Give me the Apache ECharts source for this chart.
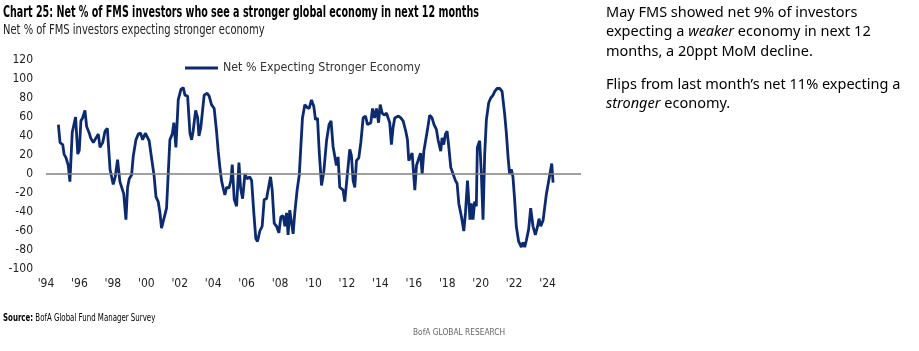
<!DOCTYPE html>
<html>
<head>
<meta charset="utf-8">
<script src="https://cdn.jsdelivr.net/npm/echarts@6.0.0/dist/echarts.min.js"></script>
<style>
  html, body { margin: 0; padding: 0; background: #fff; }
  #main { width: 919px; height: 351px; }
</style>
</head>
<body>
<div id="main"></div>
<script>
// survey month as decimal year
const years = [
  1994.74, 1994.84, 1995.00, 1995.08, 1995.20, 1995.33, 1995.43, 1995.57, 1995.63, 1995.77,
  1995.90, 1995.99, 1996.09, 1996.19, 1996.33, 1996.43, 1996.59, 1996.67, 1996.77, 1996.83,
  1996.99, 1997.13, 1997.23, 1997.39, 1997.53, 1997.67, 1997.83, 1997.93, 1998.02, 1998.14,
  1998.28, 1998.42, 1998.52, 1998.65, 1998.78, 1998.88, 1998.98, 1999.12, 1999.22, 1999.38,
  1999.52, 1999.66, 1999.78, 1999.94, 2000.05, 2000.17, 2000.32, 2000.46, 2000.58, 2000.71,
  2000.81, 2000.91, 2001.01, 2001.11, 2001.21, 2001.41, 2001.55, 2001.65, 2001.77, 2001.91,
  2002.07, 2002.21, 2002.31, 2002.47, 2002.61, 2002.71, 2002.80, 2002.95, 2003.07, 2003.15,
  2003.26, 2003.46, 2003.64, 2003.76, 2003.90, 2004.06, 2004.20, 2004.30, 2004.40, 2004.50,
  2004.60, 2004.70, 2004.80, 2004.94, 2005.06, 2005.14, 2005.26, 2005.40, 2005.54, 2005.64,
  2005.76, 2005.90, 2006.03, 2006.19, 2006.30, 2006.43, 2006.55, 2006.65, 2006.79, 2006.93,
  2007.05, 2007.19, 2007.29, 2007.43, 2007.53, 2007.65, 2007.79, 2007.93, 2008.05, 2008.18,
  2008.29, 2008.39, 2008.48, 2008.58, 2008.68, 2008.78, 2008.88, 2009.02, 2009.15, 2009.24,
  2009.34, 2009.48, 2009.62, 2009.74, 2009.88, 2010.02, 2010.12, 2010.24, 2010.34, 2010.48,
  2010.62, 2010.78, 2010.93, 2011.05, 2011.17, 2011.27, 2011.37, 2011.47, 2011.57, 2011.67,
  2011.77, 2011.87, 2012.01, 2012.17, 2012.27, 2012.37, 2012.47, 2012.57, 2012.71, 2012.83,
  2012.97, 2013.11, 2013.23, 2013.33, 2013.43, 2013.53, 2013.65, 2013.77, 2013.89, 2013.99,
  2014.11, 2014.23, 2014.37, 2014.46, 2014.56, 2014.66, 2014.76, 2014.86, 2014.96, 2015.08,
  2015.22, 2015.36, 2015.52, 2015.62, 2015.70, 2015.80, 2015.90, 2016.06, 2016.16, 2016.26,
  2016.40, 2016.50, 2016.60, 2016.71, 2016.82, 2016.95, 2017.09, 2017.21, 2017.35, 2017.45,
  2017.55, 2017.61, 2017.69, 2017.79, 2017.89, 2017.99, 2018.09, 2018.21, 2018.35, 2018.49,
  2018.59, 2018.69, 2018.85, 2018.99, 2019.09, 2019.21, 2019.28, 2019.36, 2019.44, 2019.54,
  2019.64, 2019.74, 2019.80, 2019.94, 2020.04, 2020.14, 2020.24, 2020.34, 2020.48, 2020.60,
  2020.74, 2020.84, 2020.98, 2021.14, 2021.28, 2021.44, 2021.54, 2021.64, 2021.73, 2021.83,
  2021.93, 2022.03, 2022.13, 2022.27, 2022.43, 2022.53, 2022.63, 2022.73, 2022.87, 2022.99,
  2023.13, 2023.27, 2023.39, 2023.49, 2023.59, 2023.73, 2023.83, 2023.93, 2024.07, 2024.25,
  2024.33
]

// net % expecting stronger economy
const netPct = [
  52, 33, 31, 21, 17, 9, -8, 44, 45, 60,
  21, 25, 56, 59, 67, 50, 43, 38, 40, 33,
  38, 42, 28, 33, 45, 48, 5, 3, -11, -3,
  15, -8, -10, -21, -48, -14, -5, -1, 19, 36,
  42, 43, 36, 43, 42, 35, 16, -1, -24, -29,
  -40, -57, -59, -43, -36, 36, 42, 54, 28, 78,
  89, 91, 83, 82, 43, 36, 45, 67, 59, 40,
  49, 83, 85, 82, 73, 69, 45, 24, 7, -7,
  -15, -22, -14, -15, -7, 10, -27, -34, 12, -15,
  -26, 0, -5, -3, -7, -41, -68, -71, -60, -55,
  -27, -26, -27, -3, -17, -52, -55, -62, -45, -44,
  -55, -41, -64, -38, -36, -63, -41, -17, -1, 28,
  59, 73, 70, 69, 78, 71, 57, 59, 24, -12,
  3, 35, 52, 56, 29, 28, 9, 18, -14, -15,
  -17, -29, -3, 26, 19, -7, -14, 14, 17, 33,
  59, 61, 52, 50, 54, 69, 59, 69, 54, 73,
  64, 62, 64, 66, 54, 31, 49, 59, 57, 61,
  59, 56, 45, 36, 14, 12, 22, -17, 9, 10,
  22, 0, 24, 26, 47, 62, 59, 52, 47, 36,
  35, 24, 38, 31, 42, 45, 29, 7, 0, -7,
  -10, -31, -45, -60, -41, -7, -5, -48, -31, -48,
  -29, -34, 28, 35, 0, -48, 21, 57, 75, 80,
  83, 87, 90, 90, 87, 62, 42, 17, 0, 5,
  -3, -27, -55, -71, -77, -72, -77, -70, -58, -36,
  -55, -64, -56, -47, -55, -49, -49, -21, -7, 11,
  -9
]

const seriesName = 'Net % Expecting Stronger Economy'
const NARROW = "'DejaVu Sans Condensed', sans-serif"
const NAVY = '#0b2a6f'

const chart = echarts.init(document.getElementById('main'))

chart.setOption({
  animation: false,
  backgroundColor: '#fff',
  grid: { left: 46, right: 338, top: 60, bottom: 82 },
  legend: {
    data: [{ name: seriesName, icon: 'rect' }],
    left: 185,
    top: 62,
    padding: 0,
    itemWidth: 33,
    itemHeight: 3,
    textStyle: { fontFamily: NARROW, fontSize: 12.3, color: '#333' }
  },
  xAxis: {
    type: 'value',
    min: 1994,
    max: 2026,
    interval: 2,
    axisLine: { show: false },
    axisTick: { show: false },
    splitLine: { show: false },
    axisLabel: {
      margin: 9,
      fontFamily: NARROW,
      fontSize: 12,
      color: '#222',
      formatter: v => (v >= 2026 ? '' : "'" + String(v).slice(2))
    }
  },
  yAxis: {
    type: 'value',
    min: -100,
    max: 120,
    interval: 20,
    axisLine: { show: false },
    axisTick: { show: false },
    splitLine: { show: false },
    axisLabel: { margin: 13, fontFamily: NARROW, fontSize: 12, color: '#222' }
  },
  series: [
    {
      // zero line, kept under the data line
      name: 'zero',
      type: 'line',
      data: [],
      z: 1,
      silent: true,
      markLine: {
        silent: true,
        symbol: ['none', 'none'],
        label: { show: false },
        lineStyle: { color: '#808080', width: 1.6, type: 'solid' },
        data: [{ yAxis: 0 }]
      }
    },
    {
      name: seriesName,
      type: 'line',
      z: 3,
      symbol: 'none',
      lineStyle: { color: NAVY, width: 2.8 },
      itemStyle: { color: NAVY },
      data: years.map((t, i) => [t, netPct[i]])
    }
  ],
  graphic: [
    {
      type: 'text', x: 3, y: 5, scaleX: 0.665,
      style: {
        text: 'Chart 25: Net % of FMS investors who see a stronger global economy in next 12 months',
        font: 'bold 16px ' + NARROW, fill: '#000'
      }
    },
    {
      type: 'text', x: 3, y: 23, scaleX: 0.82,
      style: { text: 'Net % of FMS investors expecting stronger economy', font: '13.5px ' + NARROW, fill: '#222' }
    },
    {
      type: 'text', x: 3, y: 313, scaleX: 0.71,
      style: {
        text: '{b|Source:} BofA Global Fund Manager Survey',
        font: '11px ' + NARROW, fill: '#000',
        rich: { b: { fontWeight: 'bold', fontFamily: NARROW, fontSize: 11 } }
      }
    },
    {
      type: 'text', x: 413, y: 329,
      style: { text: 'BofA GLOBAL RESEARCH', font: '8.3px ' + NARROW, fill: '#666' }
    },
    {
      type: 'text', left: 606, top: 3,
      style: {
        text: 'May FMS showed net 9% of investors\nexpecting a {i|weaker} economy in next 12\nmonths, a 20ppt MoM decline.',
        font: "14.5px 'Noto Sans', sans-serif", fill: '#000', lineHeight: 19.5,
        rich: { i: { fontStyle: 'italic', fontFamily: 'Noto Sans', fontSize: 14.5, lineHeight: 19.5 } }
      }
    },
    {
      type: 'text', left: 606, top: 75,
      style: {
        text: 'Flips from last month\u2019s net 11% expecting a\n{i|stronger} economy.',
        font: "14.5px 'Noto Sans', sans-serif", fill: '#000', lineHeight: 19.5,
        rich: { i: { fontStyle: 'italic', fontFamily: 'Noto Sans', fontSize: 14.5, lineHeight: 19.5 } }
      }
    }
  ]
})
</script>
</body>
</html>
